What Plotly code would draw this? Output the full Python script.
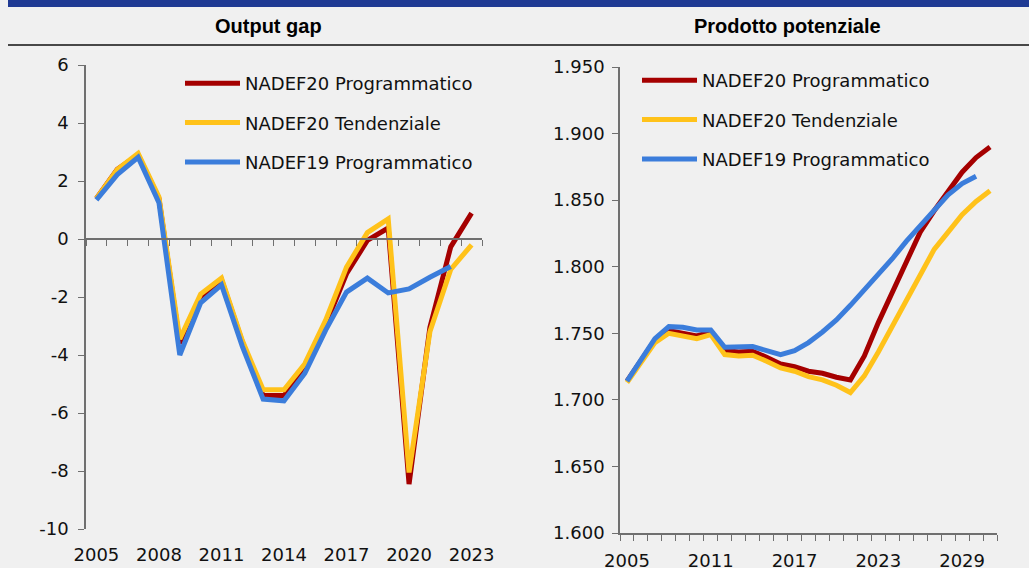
import plotly.graph_objects as go
from plotly.subplots import make_subplots

# Output gap (% del PIL potenziale)
years_gap = list(range(2005, 2024))
gap_nadef20_prog = [1.4, 2.4, 2.9, 1.4, -3.6, -2.0, -1.4, -3.55, -5.4, -5.4, -4.4, -2.95, -1.2, -0.05, 0.38, -8.45, -3.05, -0.27, 0.89]
gap_nadef20_tend = [1.4, 2.4, 2.95, 1.45, -3.45, -1.9, -1.35, -3.5, -5.2, -5.2, -4.3, -2.8, -0.97, 0.22, 0.69, -8.05, -3.2, -1.05, -0.2]
gap_nadef19_prog = [1.35, 2.22, 2.82, 1.25, -4.0, -2.2, -1.58, -3.7, -5.52, -5.58, -4.63, -3.14, -1.83, -1.35, -1.86, -1.72, -1.32, -0.95]
gap_tickvals = [2005, 2008, 2011, 2014, 2017, 2020, 2023]
gap_yvals = [-10, -8, -6, -4, -2, 0, 2, 4, 6]
gap_ylabels = ['-10', '-8', '-6', '-4', '-2', '0', '2', '4', '6']

# Prodotto potenziale (miliardi di euro)
years_pot = list(range(2005, 2032))
pot_nadef20_prog = [1714, 1729, 1745, 1752, 1750, 1748, 1751, 1737, 1736, 1736.5, 1732, 1727, 1725, 1721.5,
                    1720, 1717, 1715, 1733, 1758, 1781, 1805, 1826, 1842, 1856, 1871, 1882, 1890]
pot_nadef20_tend = [1713, 1728, 1743, 1750, 1748, 1746, 1749, 1734, 1733, 1733.5, 1729, 1724, 1721.5, 1717.5,
                    1715, 1711, 1705.5, 1718, 1736, 1755, 1775, 1794, 1813, 1826, 1839, 1849, 1857]
pot_nadef19_prog = [1714, 1730.5, 1746, 1755, 1754.5, 1752.5, 1752.5, 1739.5, 1739.5, 1740, 1737, 1734, 1737,
                    1743, 1751, 1760, 1771, 1782.5, 1794, 1806, 1819, 1831, 1843, 1854, 1862.5, 1868]
pot_tickvals = [2005, 2011, 2017, 2023, 2029]

names = ['NADEF20 Programmatico', 'NADEF20 Tendenziale', 'NADEF19 Programmatico']
colors = ['#a50000', '#ffc21a', '#3b7ddb']
gap_series = [gap_nadef20_prog, gap_nadef20_tend, gap_nadef19_prog]
pot_series = [pot_nadef20_prog, pot_nadef20_tend, pot_nadef19_prog]

W, H = 1029, 568
font_family = 'DejaVu Sans'
axis_color = '#6f6f6f'

fig = make_subplots(rows=1, cols=2)

for i in range(3):
    fig.add_trace(go.Scatter(x=years_gap[:len(gap_series[i])], y=gap_series[i], mode='lines', name=names[i],
                             line=dict(color=colors[i], width=5), legend='legend', legendgroup=f'g{i}'),
                  row=1, col=1)
for i in range(3):
    fig.add_trace(go.Scatter(x=years_pot[:len(pot_series[i])], y=pot_series[i], mode='lines', name=names[i],
                             line=dict(color=colors[i], width=5), legend='legend2', legendgroup=f'p{i}'),
                  row=1, col=2)

fig.update_layout(
    width=W, height=H, margin=dict(l=0, r=0, t=0, b=0, autoexpand=False),
    paper_bgcolor='#f0f0f0', plot_bgcolor='#f0f0f0', separators=',.',
    font=dict(family=font_family, size=18, color='#111111'),
    legend=dict(x=180 / W, y=1 - 65 / H, xanchor='left', yanchor='top', bgcolor='rgba(0,0,0,0)',
                traceorder='grouped', tracegroupgap=13, itemwidth=55),
    legend2=dict(x=637 / W, y=1 - 62 / H, xanchor='left', yanchor='top', bgcolor='rgba(0,0,0,0)',
                 traceorder='grouped', tracegroupgap=13, itemwidth=55),
)

# left panel: x axis crosses at y=0, labels pushed to bottom
y0_paper = 1 - 239 / H
fig.update_xaxes(domain=[86 / W, 482 / W], range=[2004.5, 2023.5], anchor='free', position=y0_paper,
                 showline=True, linecolor=axis_color, linewidth=1.5, showgrid=False, zeroline=False,
                 tickvals=gap_tickvals, ticks='', ticklabelstandoff=300, automargin=False,
                 minor=dict(ticks='outside', tick0=2004.5, dtick=1, ticklen=6, tickcolor=axis_color, showgrid=False),
                 row=1, col=1)
fig.update_yaxes(domain=[1 - 529 / H, 1 - 65 / H], range=[-10, 6], tickvals=gap_yvals, ticktext=gap_ylabels,
                 showline=True, linecolor=axis_color, linewidth=1.5, ticks='outside', ticklen=6, automargin=False,
                 ticklabelstandoff=6, tickcolor=axis_color, showgrid=False, zeroline=False, row=1, col=1)

fig.update_xaxes(domain=[620 / W, 997 / W], range=[2004.5, 2031.5], showline=True, linecolor=axis_color,
                 linewidth=1.5, showgrid=False, zeroline=False, tickvals=pot_tickvals, ticks='',
                 ticklabelstandoff=11, automargin=False,
                 minor=dict(ticks='outside', tick0=2004.5, dtick=1, ticklen=6, tickcolor=axis_color, showgrid=False),
                 row=1, col=2)
fig.update_yaxes(domain=[1 - 533 / H, 1 - 67 / H], range=[1600, 1950], dtick=50, tickformat=',d',
                 showline=True, linecolor=axis_color, linewidth=1.5, ticks='outside', ticklen=6, automargin=False,
                 ticklabelstandoff=4, tickcolor=axis_color, showgrid=False, zeroline=False, row=1, col=2)

# header band, titles and separator line
fig.add_shape(type='rect', xref='paper', yref='paper', x0=8 / W, x1=1, y0=1 - 7 / H, y1=1,
              fillcolor='#1f3a93', line_width=0)
fig.add_shape(type='line', xref='paper', yref='paper', x0=8 / W, x1=1, y0=1 - 45 / H, y1=1 - 45 / H,
              line=dict(color='#111111', width=1.5))
fig.add_annotation(text='Output gap', xref='paper', yref='paper', x=268 / W, y=1 - 26 / H, showarrow=False,
                   xanchor='center', yanchor='middle',
                   font=dict(family='Liberation Sans', size=20, weight='bold', color='#000000'))
fig.add_annotation(text='Prodotto potenziale', xref='paper', yref='paper', x=787 / W, y=1 - 26 / H,
                   showarrow=False, xanchor='center', yanchor='middle',
                   font=dict(family='Liberation Sans', size=20, weight='bold', color='#000000'))

fig.write_html('out.html', config={'displayModeBar': False},
               post_script="document.body.style.margin='0';document.body.style.overflow='hidden';")
